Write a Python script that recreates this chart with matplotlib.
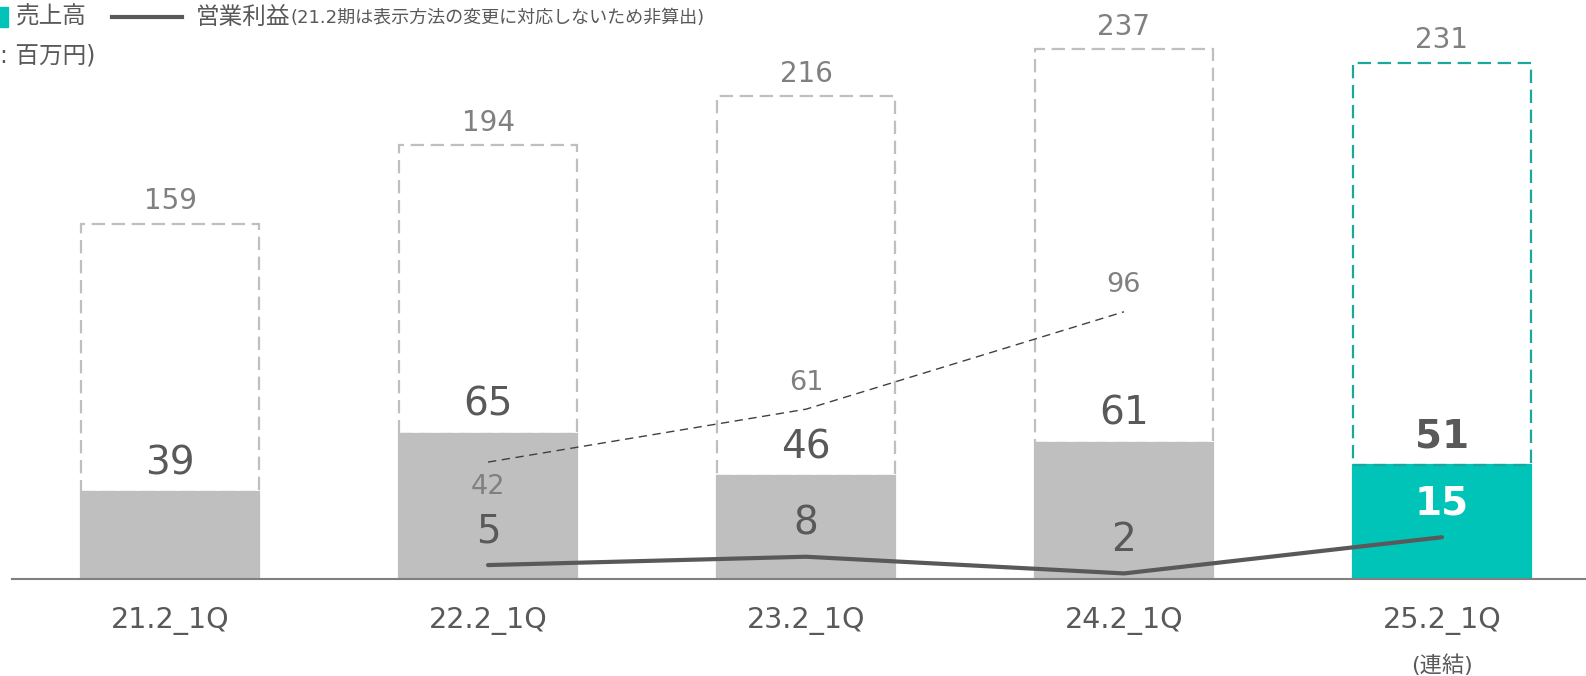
#!/usr/bin/env python3
"""Quarterly sales (1Q) vs full-year sales, with operating profit lines."""
import matplotlib
matplotlib.use("Agg")
import matplotlib.pyplot as plt

plt.rcParams["font.family"] = ["DejaVu Sans", "Noto Sans CJK JP"]

# data (百万円)
categories = ["21.2_1Q", "22.2_1Q", "23.2_1Q", "24.2_1Q", "25.2_1Q"]
sales_full = [159, 194, 216, 237, 231]      # dashed outline (full-year)
sales_q1 = [39, 65, 46, 61, 51]             # filled bar (1Q)
op_profit_idx = [1, 2, 3, 4]
op_profit = [5, 8, 2, 15]                   # solid line
op_full_idx = [1, 2, 3]
op_full = [42, 61, 96]                      # thin dashed line

GRAY = "#BFBFBF"
TEAL = "#00C4B8"
TEAL_EDGE = "#1BA89C"
DARK = "#595959"
MID = "#808080"

fig = plt.figure(figsize=(15.86, 6.76), dpi=100)
ax = fig.add_axes([12 / 1586, 1 - 579 / 676, 1 - 12 / 1586, 579 / 676])
ax2 = ax.twinx()
ax2.set_position(ax.get_position())

x = list(range(len(categories)))
w = 0.557
face = [GRAY] * 4 + [TEAL]
edge = [GRAY] * 4 + [TEAL_EDGE]
rest = [t - q for t, q in zip(sales_full, sales_q1)]

ax.bar(x, sales_q1, width=w, color=face, edgecolor=face, linewidth=1.6,
       zorder=1)
ax.bar(x, rest, bottom=sales_q1, width=w, facecolor="none", edgecolor=edge,
       linewidth=1.6, linestyle=(0, (6, 3)), zorder=2)

for i, (tot, q1) in enumerate(zip(sales_full, sales_q1)):
    ax.annotate(str(tot), (i, tot), xytext=(0, 6), textcoords="offset points",
                ha="center", va="bottom", fontsize=20, color=MID)
    last = i == len(categories) - 1
    ax.annotate(str(q1), (i, q1), xytext=(0, 7), textcoords="offset points",
                ha="center", va="bottom", fontsize=28, color=DARK,
                fontweight="bold" if last else "normal")

ax.set_xlim(-0.497, 4.453)
ax.set_ylim(0, 259)
ax.set_xticks(x)
ax.set_xticklabels(categories, fontsize=20.5, color=DARK)
ax.tick_params(axis="x", length=0, pad=20)
ax.set_yticks([])
for s in ["top", "right", "left"]:
    ax.spines[s].set_visible(False)
ax.spines["bottom"].set_color(MID)
ax.spines["bottom"].set_linewidth(1.5)
ax.text(4, -0.148, "(連結)", transform=ax.get_xaxis_transform(),
        ha="center", va="center", fontsize=16, color=DARK)

# lines on a secondary scale
ax2.set_ylim(0, 208)
ax2.set_axis_off()
ax2.plot(op_full_idx, op_full, color="#404040", linewidth=1.0,
         linestyle=(0, (6, 4)), zorder=3)
for i, v in zip(op_full_idx, op_full):
    dy = -18 if i == op_full_idx[0] else 19
    ax2.annotate(str(v), (i, v), xytext=(0, dy), textcoords="offset points",
                 ha="center", va="center", fontsize=19.5, color=MID)

ax2.plot(op_profit_idx, op_profit, color=DARK, linewidth=3.0,
         solid_capstyle="round", zorder=4)
for i, v in zip(op_profit_idx, op_profit):
    last = i == len(categories) - 1
    ax2.annotate(str(v), (i, v), xytext=(0, 24), textcoords="offset points",
                 ha="center", va="center", fontsize=28,
                 color="white" if last else DARK,
                 fontweight="bold" if last else "normal")

# legend / unit note drawn in figure pixels
def fx(px):
    return px / 1586

def fy(py):
    return 1 - py / 676

fig.patches.append(plt.Rectangle((0, fy(27)), fx(8), 20 / 676, color=TEAL,
                                 transform=fig.transFigure))
fig.text(fx(16), fy(17), "売上高", fontsize=17, color=DARK, va="center")
fig.add_artist(plt.Line2D([fx(112), fx(182)], [fy(17), fy(17)], color=DARK,
                          linewidth=3, transform=fig.transFigure))
fig.text(fx(196), fy(17), "営業利益", fontsize=17, color=DARK, va="center")
fig.text(fx(290), fy(18), "(21.2期は表示方法の変更に対応しないため非算出)",
         fontsize=13, color=DARK, va="center")
fig.text(0, fy(56), ": 百万円)", fontsize=17, color=DARK, va="center")

fig.savefig("out.png", dpi=100)
